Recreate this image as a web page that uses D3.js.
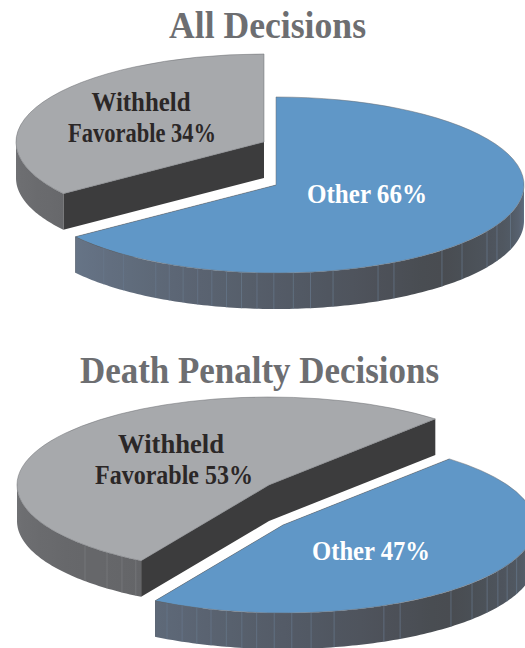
<!DOCTYPE html>
<html>
<head>
<meta charset="utf-8">
<script src="https://cdn.jsdelivr.net/npm/d3@7"></script>
<style>
  html, body { margin: 0; padding: 0; background: #fff; }
  svg { display: block; }
  text { font-family: "Liberation Serif", serif; font-weight: bold; text-anchor: middle; }
</style>
</head>
<body>
<script>
const width = 525;
const height = 648;

const sliceNames = ["Other", "Withheld Favorable"];

// slice sizes as they are drawn in the picture (the top pie is drawn a bit short of its label)
const valuesAll = [65, 35];
const valuesDeath = [47, 53];

const titleAll = "All Decisions";
const titleDeath = "Death Penalty Decisions";

const labelsAll = [["Other 66%"], ["Withheld", "Favorable 34%"]];
const labelsDeath = [["Other 47%"], ["Withheld", "Favorable 53%"]];

// wall seams, degrees clockwise from the top of the pie
const seamsAllOther = [224, 218, 209, 205.5, 202, 198.4, 195, 191.5, 188, 184.4, 180.5, 176, 172, 166.7, 155.7, 151.6, 138, 131.4, 121.7, 117, 109];
const seamsAllWithheld = [];
const seamsDeathOther = [207.4, 203.6, 200, 196.6, 193, 189.4, 186, 182, 178, 173.6, 168.3, 156.4, 152.3, 138.2, 131.4, 125.9, 121.5, 117.2, 112];
const seamsDeathWithheld = [226.9, 220, 215.7, 211.9];

const topColors = ["#6097c7", "#a7a9ac"];
const seamColors = ["#67788c", "#7b7c7f"];

const wallOther = d3
  .scaleLinear()
  .domain([90, 110, 140, 180, 234])
  .range(["#5f6e82", "#515963", "#484b50", "#545b67", "#667486"]);

const wallWithheld = d3
  .scaleLinear()
  .domain([200, 234, 270])
  .range(["#636467", "#67686b", "#707174"]);

const wallScales = [wallOther, wallWithheld];

const svg = d3
  .select("body")
  .append("svg")
  .attr("width", width)
  .attr("height", height);

const defs = svg.append("defs");

const rad = (deg) => (deg * Math.PI) / 180;
const deg = (r) => (r * 180) / Math.PI;
let gradienteId = 0;

function dibujarPie({ values, seams, labels, startDeg, centers, rx, ry, depth, labelPos }) {
  const pie = d3
    .pie()
    .sort(null)
    .value((d) => d)
    .startAngle(rad(startDeg))
    .endAngle(rad(startDeg + 360));

  const arcos = pie(values);
  const xs = d3.scaleLinear().domain([-1, 1]).range([-rx, rx]);
  const ys = d3.scaleLinear().domain([-1, 1]).range([-ry, ry]);
  const polygono = d3.line();

  arcos.forEach((a, i) => {
    const c = centers[i];
    const g = svg.append("g").attr("transform", `translate(${c[0]}, ${c[1]})`);
    const punto = (d) => [xs(Math.sin(rad(d))), ys(-Math.cos(rad(d)))];
    const ini = deg(a.startAngle);
    const fin = deg(a.endAngle);

    // radial cut faces, the ones that face away end up under the top surface
    [ini, fin].forEach((d) => {
      const p = punto(d);
      g.append("path")
        .attr("d", polygono([[0, 0], p, [p[0], p[1] + depth], [0, depth]]) + "Z")
        .attr("fill", "#3c3c3d");
    });

    // outer wall, only the front half of the rim shows
    const desde = Math.max(ini, 90);
    const hasta = Math.min(fin, 270);
    const borde = d3.range(desde, hasta, 1).concat(hasta).map(punto);
    const abajo = borde.map((p) => [p[0], p[1] + depth]).reverse();

    // shade runs left to right along the wall
    const id = `pared${gradienteId++}`;
    defs
      .append("linearGradient")
      .attr("id", id)
      .attr("gradientUnits", "userSpaceOnUse")
      .attr("x1", -rx)
      .attr("x2", rx)
      .attr("y1", 0)
      .attr("y2", 0)
      .selectAll("stop")
      .data(d3.range(270, 89, -6))
      .join("stop")
      .attr("offset", (d) => (Math.sin(rad(d)) + 1) / 2)
      .attr("stop-color", (d) => wallScales[i](d));

    g.append("path")
      .attr("d", polygono(borde.concat(abajo)) + "Z")
      .attr("fill", `url(#${id})`);

    g.selectAll("line.seam")
      .data(seams[i])
      .join("line")
      .attr("class", "seam")
      .attr("x1", (d) => punto(d)[0])
      .attr("x2", (d) => punto(d)[0])
      .attr("y1", (d) => punto(d)[1])
      .attr("y2", (d) => punto(d)[1] + depth)
      .attr("stroke", seamColors[i])
      .attr("stroke-width", 0.7);

    // top surface
    const arco = d3.arc().innerRadius(0).outerRadius(rx);
    g.append("path")
      .attr("d", arco(a))
      .attr("transform", `scale(1, ${ry / rx})`)
      .attr("fill", topColors[i])
      .attr("stroke", "#6a6c70")
      .attr("stroke-width", 0.5)
      .attr("vector-effect", "non-scaling-stroke");
  });

  labels.forEach((lineas, i) => {
    lineas.forEach((linea, j) => {
      const pos = labelPos[i][j];
      svg
        .append("text")
        .attr("x", pos.x)
        .attr("y", pos.y)
        .attr("font-size", 27)
        .attr("textLength", pos.w)
        .attr("lengthAdjust", "spacingAndGlyphs")
        .attr("fill", i === 0 ? "#ffffff" : "#2b2727")
        .text(linea);
    });
  });
}

function titulo(texto, x, y, w) {
  svg
    .append("text")
    .attr("x", x)
    .attr("y", y)
    .attr("font-size", 37)
    .attr("textLength", w)
    .attr("lengthAdjust", "spacingAndGlyphs")
    .attr("fill", "#6d6e71")
    .text(texto);
}

titulo(titleAll, 267.5, 38, 197);
titulo(titleDeath, 259.5, 383, 359);

dibujarPie({
  values: valuesAll,
  seams: [seamsAllOther, seamsAllWithheld],
  labels: labelsAll,
  startDeg: 0,
  centers: [[276, 185], [264, 142]],
  rx: 248,
  ry: 88,
  depth: 36,
  labelPos: [
    [{ x: 367, y: 203, w: 120 }],
    [{ x: 141, y: 111, w: 99 }, { x: 142, y: 142, w: 148 }],
  ],
});

dibujarPie({
  values: valuesDeath,
  seams: [seamsDeathOther, seamsDeathWithheld],
  labels: labelsDeath,
  startDeg: 41.3,
  centers: [[283, 525], [269, 485]],
  rx: 252,
  ry: 88,
  depth: 36,
  labelPos: [
    [{ x: 371, y: 560, w: 118 }],
    [{ x: 171, y: 453, w: 106 }, { x: 174, y: 484, w: 158 }],
  ],
});
</script>
</body>
</html>
